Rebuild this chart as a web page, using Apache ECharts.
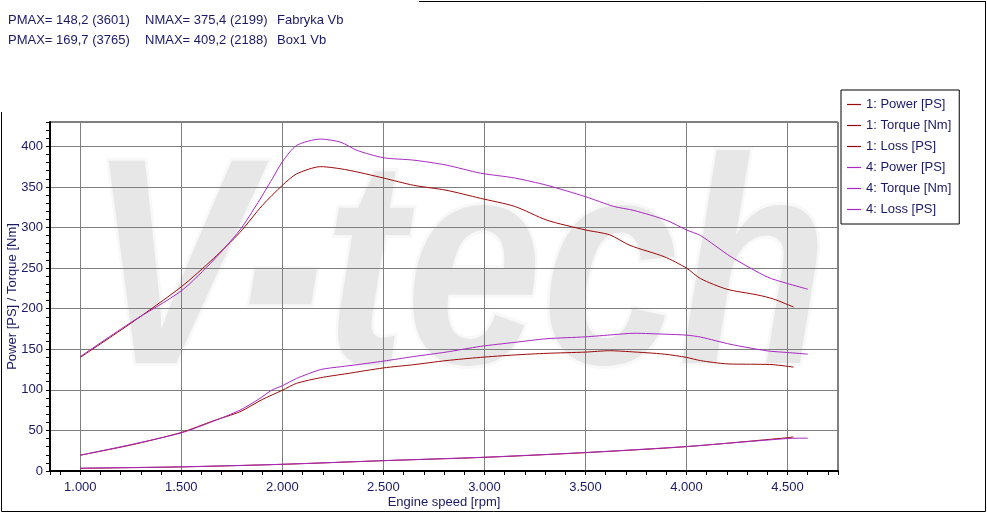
<!DOCTYPE html>
<html>
<head>
<meta charset="utf-8">
<script src="https://cdn.jsdelivr.net/npm/echarts@6/dist/echarts.min.js"></script>
<style>html,body{margin:0;padding:0;background:#fff}#c{width:987px;height:513px}</style>
</head>
<body>
<div id="c"></div>
<script>
// ---- Data ----
const rpm1 = [1000,1250,1500,1660,1790,1900,2000,2070,2190,2320,2500,2650,2810,2980,3150,3310,3500,3620,3720,3890,4000,4070,4200,4350,4430,4530];
const torque1 = [140,182,227,262,294,327,352,366,375,371,361,352,346,336,326,309,297,291,278,264,250,237,224,217,212,202];
const power1 = [19.5,32,47.5,62,73,88,99.5,108,115,120,127,131,136,140,143,145,146.5,148.2,147,144,140,136,132,131.5,131,128];
const rpm1Loss = [1000,1500,2000,2500,3000,3500,4000,4500,4530];
const loss1 = [3.3,5,8.2,12.7,16.8,22.6,30,41,42];

const rpm4 = [1000,1250,1500,1660,1790,1880,1950,2000,2070,2190,2290,2370,2500,2650,2810,2980,3150,3310,3500,3640,3740,3900,4000,4070,4220,4400,4500,4600];
const torque4 = [141,183,222,260,297,331,360,381,401,409,405,395,386,383,377,367,361,352,338,326,321,309,297,290,264,239,231,224];
const power4 = [19.5,32.5,47,61.5,75,88,100,105,114,125,128.5,131,135.4,141,146.5,153.5,158.5,163,165.3,168,169.7,168.5,167.4,165,156,148,146,144];
const rpm4Loss = [1000,1500,2000,2500,3000,3500,4000,4500,4600];
const loss4 = [3.5,5.2,8.3,12.8,17,22.8,30.2,40,40.5];

const seriesNames = ['1: Power [PS]','1: Torque [Nm]','1: Loss [PS]','4: Power [PS]','4: Torque [Nm]','4: Loss [PS]'];
const headerLine1 = ['PMAX= 148,2 (3601)','NMAX= 375,4 (2199)','Fabryka Vb'];
const headerLine2 = ['PMAX= 169,7 (3765)','NMAX= 409,2 (2188)','Box1 Vb'];

// ---- Styles ----
const RED = '#9c0a0a';
const PURPLE = '#a829c2';
const NAVY = '#1a1a66';
const FONT = '"Liberation Sans", Arial, sans-serif';

const zip = (xs, ys) => xs.map((x, i) => [x, ys[i]]);

function line(name, color, data) {
  return {
    name, type: 'line', data, xAxisIndex: 0, yAxisIndex: 0,
    symbol: 'none', showSymbol: false, smooth: 0.25,
    lineStyle: { color, width: 1 }, itemStyle: { color },
    emphasis: { disabled: true }, z: 5
  };
}

const chart = echarts.init(document.getElementById('c'), null, { renderer: 'canvas' });
const headerX = [8, 145, 277];
const graphics = [];
// watermark (decorative)
graphics.push({
  type: 'text', x: 458, y: 282, scaleY: 1.2, z: -10, silent: true,
  style: {
    text: 'V-tech', font: 'italic bold 245px "Liberation Sans", Arial, sans-serif',
    fill: '#e7e7e7', stroke: '#f8f8f8', lineWidth: 5,
    align: 'center', verticalAlign: 'middle'
  }
});
headerLine1.forEach((t, i) => graphics.push({ type: 'text', x: headerX[i], y: 20.5, style: { text: t, font: '13px ' + FONT, fill: NAVY, verticalAlign: 'middle' } }));
headerLine2.forEach((t, i) => graphics.push({ type: 'text', x: headerX[i], y: 40.5, style: { text: t, font: '13px ' + FONT, fill: NAVY, verticalAlign: 'middle' } }));
// outer frame lines
[[1.5,112,1.5,511.5],[1.5,511.5,985.5,511.5],[985.5,1,985.5,511.5],[419,1.5,985.5,1.5]].forEach(s =>
  graphics.push({ type: 'line', shape: { x1: s[0], y1: s[1], x2: s[2], y2: s[3] }, style: { stroke: '#000', lineWidth: 1 }, silent: true }));

chart.setOption({
  animation: false,
  backgroundColor: '#fff',
  textStyle: { fontFamily: FONT },
  grid: { left: 50, top: 122, right: 149, bottom: 42, show: true, borderColor: '#000', borderWidth: 1, backgroundColor: 'transparent', containLabel: false, outerBoundsMode: 'none' },
  graphic: graphics,
  legend: {
    data: seriesNames, orient: 'vertical', left: 841, top: 90,
    icon: 'rect', itemWidth: 14, itemHeight: 1.2, itemGap: 8, padding: [8, 8, 8, 6],
    backgroundColor: '#fff', borderColor: '#000', borderWidth: 1, borderRadius: 0,
    selectedMode: false, textStyle: { fontSize: 13, color: NAVY, fontFamily: FONT }
  },
  xAxis: [
    {
      type: 'value', min: 850, max: 4750, splitNumber: 8, position: 'bottom',
      name: 'Engine speed [rpm]', nameLocation: 'middle', nameGap: 25, nameMoveOverlap: false,
      nameTextStyle: { fontSize: 13, color: NAVY, fontFamily: FONT },
      axisLine: { show: true, onZero: false, lineStyle: { color: '#000', width: 2 } },
      axisTick: { show: false },
      axisLabel: { fontSize: 13, color: NAVY, margin: 10, showMinLabel: false, showMaxLabel: false,
        formatter: v => (v % 500 === 0 ? (v / 1000).toFixed(3) : '') },
      splitLine: { show: true, lineStyle: { color: '#7f7f7f', width: 1 } }
    },
    {
      type: 'value', min: 850, max: 4750, splitNumber: 39, position: 'bottom',
      axisLine: { show: false }, axisLabel: { show: false }, splitLine: { show: false },
      axisTick: { show: true, length: 4, lineStyle: { color: '#000', width: 1 } }
    }
  ],
  yAxis: [
    {
      type: 'value', min: 0, max: 430, interval: 50, position: 'left',
      name: 'Power [PS] / Torque [Nm]', nameLocation: 'middle', nameGap: 31, nameMoveOverlap: false,
      nameTextStyle: { fontSize: 13, color: NAVY, fontFamily: FONT },
      axisLine: { show: true, onZero: false, lineStyle: { color: '#000', width: 2 } },
      axisTick: { show: false },
      axisLabel: { fontSize: 13, color: NAVY, margin: 7, showMaxLabel: false },
      splitLine: { show: true, lineStyle: { color: '#7f7f7f', width: 1 } }
    },
    {
      type: 'value', min: 0, max: 430, interval: 10, position: 'left',
      axisLine: { show: false }, axisLabel: { show: false }, splitLine: { show: false },
      axisTick: { show: true, length: 4, lineStyle: { color: '#000', width: 1 } }
    }
  ],
  series: [
    line(seriesNames[0], RED, zip(rpm1, power1)),
    line(seriesNames[1], RED, zip(rpm1, torque1)),
    line(seriesNames[2], RED, zip(rpm1Loss, loss1)),
    line(seriesNames[3], PURPLE, zip(rpm4, power4)),
    line(seriesNames[4], PURPLE, zip(rpm4, torque4)),
    line(seriesNames[5], PURPLE, zip(rpm4Loss, loss4))
  ]
});
</script>
</body>
</html>
